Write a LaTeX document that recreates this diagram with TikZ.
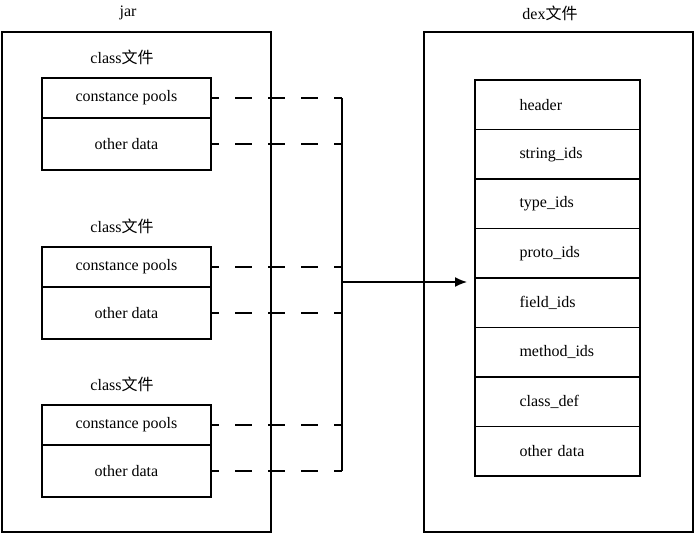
\documentclass[tikz,border=0pt]{standalone}
\usepackage{fontspec}
\setmainfont{Liberation Serif}
\newfontfamily\cjk{Noto Sans CJK SC}
\usetikzlibrary{arrows.meta,positioning}

\begin{document}
\begin{tikzpicture}[
  x=1pt, y=-1pt,
  font=\fontsize{16}{19}\selectfont,
  frame/.style={draw, line width=1.8pt, outer sep=0pt, minimum width=269pt, minimum height=500pt, anchor=north west},
  cell/.style={draw, line width=1.8pt, outer sep=0pt, minimum width=169pt},
  row/.style={draw, line width=1.8pt, outer sep=0pt, minimum height=49.5pt, text width=76pt, inner xsep=44.5pt, align=left},
  dashline/.style={line width=1.8pt, dash pattern=on 17pt off 16pt, dash phase=9pt},
  wire/.style={line width=1.8pt},
  arrow/.style={-{Latex[length=12pt, width=10pt]}, line width=1.5pt}
]
  \useasboundingbox (0,0) rectangle (696,535);

  % jar side
  \node[frame] (jar) at (2,32) {};
  \node (jarlabel) at (128,13) {jar};
  \foreach \i/\y in {1/78, 2/247, 3/405} {
    \node (cls\i) at (122,\y-21) {class{\cjk 文件}};
    \node[cell, minimum height=40pt, anchor=north west] (pool\i) at (42,\y) {constance pools};
    \node[cell, minimum height=52pt, below=0pt of pool\i] (data\i) {other data};
  }

  % dex side
  \node[frame] (dex) at (424,32) {};
  \node (dexlabel) at (550,13) {dex{\cjk 文件}};
  \node[row, anchor=north west] (header) at (475,80) {header};
  \node[row, below=0pt of header] (strids) {string\_ids};
  \node[row, below=0pt of strids] (typeids) {type\_ids};
  \node[row, below=0pt of typeids] (protoids) {proto\_ids};
  \node[row, below=0pt of protoids] (fieldids) {field\_ids};
  \node[row, below=0pt of fieldids] (methodids) {method\_ids};
  \node[row, below=0pt of methodids] (classdef) {class\_def};
  \node[row, below=0pt of classdef] (otherdata) {other data};

  % merge into dex
  \coordinate (bus) at (342,282);
  \foreach \n in {pool1,data1,pool2,data2,pool3,data3}
    \draw[dashline] (\n.east) -- (\n.east -| bus);
  \draw[wire] (pool1.east -| bus) -- (data3.east -| bus);
  \draw[arrow] (bus) -- ([xshift=-8pt]bus -| fieldids.west);
\end{tikzpicture}
\end{document}
